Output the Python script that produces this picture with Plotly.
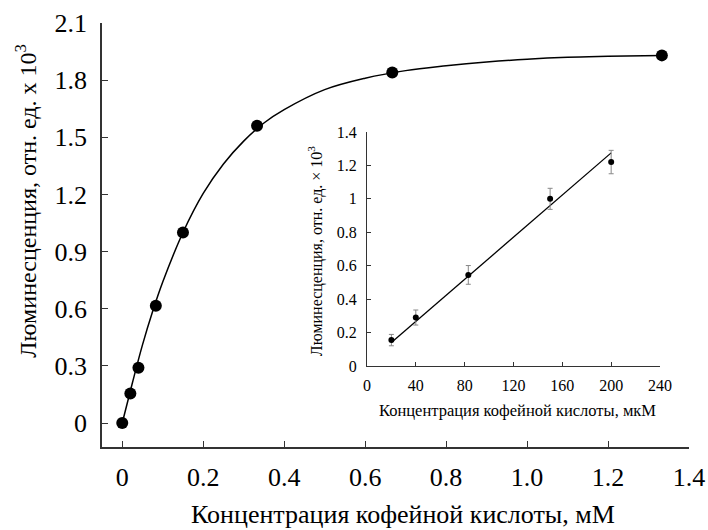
import plotly.graph_objects as go

# Main chart data (mM, luminescence x10^3)
main_x = [0, 0.02, 0.04, 0.083, 0.15, 0.333, 0.667, 1.333]
main_y = [0, 0.155, 0.29, 0.615, 1.0, 1.56, 1.84, 1.93]

# Fitted saturation curve
curve_x = [0, 0.025, 0.05, 0.075, 0.1, 0.15, 0.2, 0.25, 0.3, 0.35, 0.4, 0.5, 0.6, 0.7, 0.8, 0.9, 1.0, 1.1, 1.2, 1.333]
curve_y = [0, 0.21, 0.41, 0.585, 0.74, 1.0, 1.205, 1.36, 1.48, 1.575, 1.645, 1.75, 1.81, 1.85, 1.875, 1.895, 1.91, 1.92, 1.925, 1.93]

# Inset data (µM)
ins_x = [20, 40, 83, 150, 200]
ins_y = [0.155, 0.29, 0.545, 1.0, 1.22]
ins_err = [0.034, 0.045, 0.056, 0.063, 0.07]
ins_line_x = [20, 200]
ins_line_y = [0.14, 1.275]

main_xticks = [0, 0.2, 0.4, 0.6, 0.8, 1.0, 1.2, 1.4]
main_xticklabels = ["0", "0.2", "0.4", "0.6", "0.8", "1.0", "1.2", "1.4"]
main_yticks = [0, 0.3, 0.6, 0.9, 1.2, 1.5, 1.8, 2.1]
main_yticklabels = ["0", "0.3", "0.6", "0.9", "1.2", "1.5", "1.8", "2.1"]
ins_xticks = [0, 40, 80, 120, 160, 200, 240]
ins_yticks = [0, 0.2, 0.4, 0.6, 0.8, 1.0, 1.2, 1.4]
ins_yticklabels = ["0", "0.2", "0.4", "0.6", "0.8", "1", "1.2", "1.4"]

FONT = "Liberation Serif"

fig = go.Figure()
fig.add_trace(go.Scatter(x=curve_x, y=curve_y, mode="lines", line=dict(color="black", width=1.5, shape="spline"),
                         xaxis="x", yaxis="y", showlegend=False, hoverinfo="skip"))
fig.add_trace(go.Scatter(x=main_x, y=main_y, mode="markers", marker=dict(color="black", size=12),
                         xaxis="x", yaxis="y", showlegend=False))
fig.add_trace(go.Scatter(x=ins_line_x, y=ins_line_y, mode="lines", line=dict(color="black", width=1.3),
                         xaxis="x2", yaxis="y2", showlegend=False, hoverinfo="skip"))
fig.add_trace(go.Scatter(x=ins_x, y=ins_y, mode="markers", marker=dict(color="black", size=6),
                         error_y=dict(type="data", array=ins_err, color="#888888", thickness=1, width=2.5),
                         xaxis="x2", yaxis="y2", showlegend=False))

axis_common = dict(showline=True, linecolor="#333333", ticks="inside", tickcolor="#333333",
                   showgrid=False, zeroline=False, mirror=False, automargin=False)

fig.update_layout(
    width=708, height=530,
    margin=dict(l=102, r=19, t=23, b=83, autoexpand=False),
    paper_bgcolor="white", plot_bgcolor="white",
    font=dict(family=FONT, color="black"),
    xaxis=dict(**axis_common, range=[-0.05, 1.4], tickvals=main_xticks, ticktext=main_xticklabels,
               linewidth=1.5, ticklen=6, tickfont=dict(size=26, family=FONT), ticklabelstandoff=6,
               domain=[0, 1]),
    yaxis=dict(**axis_common, range=[-0.126, 2.1], tickvals=main_yticks, ticktext=main_yticklabels,
               linewidth=1.5, ticklen=6, tickfont=dict(size=26, family=FONT), ticklabelstandoff=8,
               domain=[0, 1]),
    xaxis2=dict(**axis_common, range=[0, 240], tickvals=ins_xticks, linewidth=1, ticklen=4,
                tickfont=dict(size=16, family=FONT), domain=[0.4514, 0.9506], anchor="y2",
                ticklabelstandoff=5),
    yaxis2=dict(**axis_common, range=[0, 1.4], tickvals=ins_yticks, ticktext=ins_yticklabels,
                linewidth=1, ticklen=4, tickfont=dict(size=16, family=FONT), domain=[0.191, 0.743],
                anchor="x2", ticklabelstandoff=6),
    annotations=[
        dict(text="Концентрация кофейной кислоты, мМ", xref="paper", yref="paper", x=0.512, y=-0.16,
             xanchor="center", yanchor="middle", showarrow=False, font=dict(size=26, family=FONT)),
        dict(text="Люминесценция, отн. ед. x 10<sup>3</sup>", xref="paper", yref="paper", x=-0.13, y=0.58,
             xanchor="center", yanchor="middle", textangle=-90, showarrow=False, font=dict(size=24, family=FONT)),
        dict(text="Концентрация кофейной кислоты, мкМ", xref="paper", yref="paper",
             x=0.707, y=0.087, xanchor="center", yanchor="middle", showarrow=False,
             font=dict(size=16.5, family=FONT)),
        dict(text="Люминесценция, отн. ед. × 10<sup>3</sup>", xref="paper", yref="paper", x=0.363, y=0.462,
             xanchor="center", yanchor="middle", textangle=-90, showarrow=False, font=dict(size=16, family=FONT)),
    ],
)

fig.write_html("out.html", config={"displayModeBar": False},
               post_script="document.body.style.margin='0';document.body.style.padding='0';")
